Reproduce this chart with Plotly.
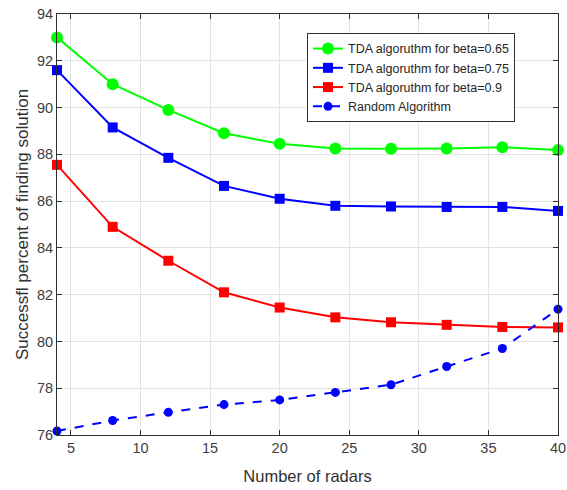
import plotly.graph_objects as go

radars = [4, 8, 12, 16, 20, 24, 28, 32, 36, 40]
tda_065 = [93.0, 91.0, 89.9, 88.9, 88.45, 88.25, 88.24, 88.25, 88.3, 88.18]
tda_075 = [91.6, 89.15, 87.85, 86.65, 86.1, 85.8, 85.77, 85.75, 85.75, 85.58]
tda_09 = [87.55, 84.9, 83.45, 82.1, 81.45, 81.03, 80.82, 80.71, 80.62, 80.6]
random_alg = [76.17, 76.62, 76.97, 77.3, 77.5, 77.82, 78.15, 78.93, 79.7, 81.38]

names = ["TDA algoruthm for beta=0.65", "TDA algoruthm for beta=0.75",
         "TDA algoruthm for beta=0.9", "Random Algorithm"]
x_ticks = [5, 10, 15, 20, 25, 30, 35, 40]
y_ticks = [76, 78, 80, 82, 84, 86, 88, 90, 92, 94]

FONT = "Liberation Sans, Arial"

fig = go.Figure()
fig.add_trace(go.Scatter(x=radars, y=tda_065, name=names[0], mode="lines+markers",
                         line=dict(color="#00ff00", width=2),
                         marker=dict(symbol="circle", size=12, color="#00ff00"),
                         cliponaxis=False))
fig.add_trace(go.Scatter(x=radars, y=tda_075, name=names[1], mode="lines+markers",
                         line=dict(color="#0000ff", width=2),
                         marker=dict(symbol="square", size=10, color="#0000ff"),
                         cliponaxis=False))
fig.add_trace(go.Scatter(x=radars, y=tda_09, name=names[2], mode="lines+markers",
                         line=dict(color="#ff0000", width=2),
                         marker=dict(symbol="square", size=10, color="#ff0000"),
                         cliponaxis=False))
fig.add_trace(go.Scatter(x=radars, y=random_alg, name=names[3], mode="lines+markers",
                         line=dict(color="#0000ff", width=2, dash="dash"),
                         marker=dict(symbol="circle", size=9, color="#0000ff"),
                         cliponaxis=False))

axis_common = dict(showline=True, linecolor="#303030", linewidth=1, mirror="ticks",
                   ticks="inside", ticklen=5, tickcolor="#303030",
                   showgrid=True, gridcolor="#e3e3e3", gridwidth=1, zeroline=False,
                   tickfont=dict(family=FONT, size=14.5, color="#404040"))

fig.update_xaxes(range=[4, 40], tickvals=x_ticks, title_text="Number of radars",
                 title_font=dict(family=FONT, size=16.5, color="#303030"),
                 automargin=False, **axis_common)
fig.update_yaxes(range=[76, 94], tickvals=y_ticks,
                 title_text="Successfl percent of finding solution",
                 title_font=dict(family=FONT, size=17, color="#303030"),
                 automargin="left", title_standoff=4, **axis_common)

fig.update_layout(
    width=567, height=490,
    margin=dict(l=57, r=9, t=14, b=55),
    paper_bgcolor="white", plot_bgcolor="white",
    font=dict(family=FONT, color="#262626"),
    legend=dict(x=0.499, y=0.955, xanchor="left", yanchor="top",
                bgcolor="white", bordercolor="#303030", borderwidth=1,
                font=dict(family=FONT, size=12.5, color="#262626"),
                tracegroupgap=0, itemwidth=30),
    showlegend=True,
)

fig.write_html("out.html", config={"displayModeBar": False},
               post_script="document.body.style.margin='0';")
